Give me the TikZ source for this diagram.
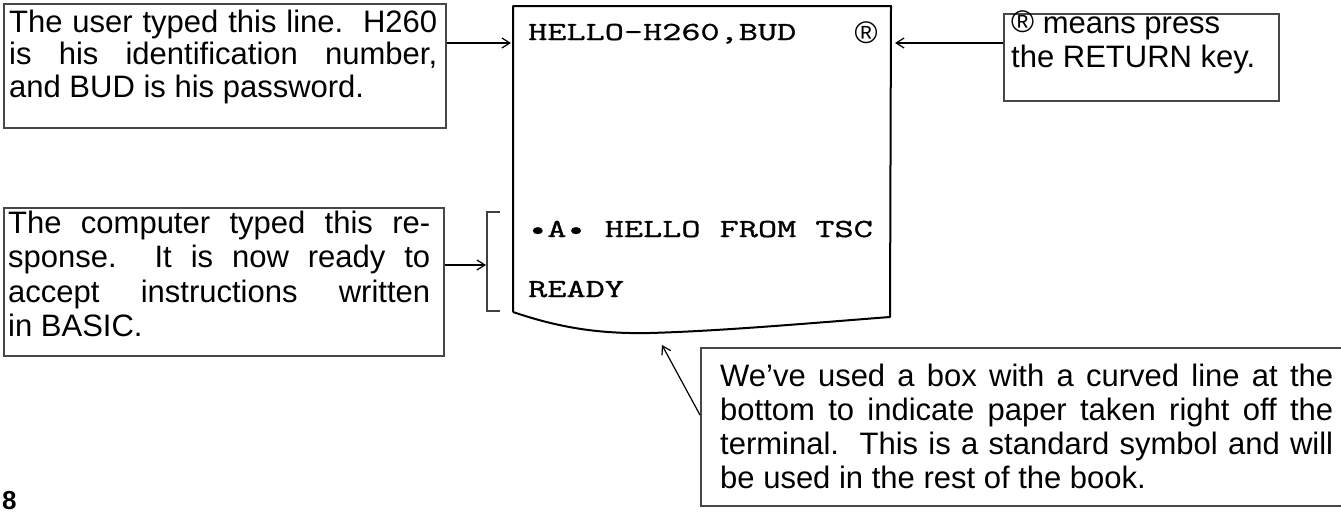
\documentclass[tikz,border=0pt]{standalone}
\usepackage{fontspec}
\setmainfont{Liberation Sans}
\newfontfamily\typer{Latin Modern Mono}[FakeStretch=1.43,FakeBold=1.2]
\usetikzlibrary{arrows.meta}
\newcommand\jline[2]{\makebox[#1][s]{#2}}
\newcommand\circR{\resizebox{23pt}{!}{®}}
\begin{document}
\begin{tikzpicture}[x=1pt,y=-1pt,
  frame/.style={draw=black!72, line width=1.8pt, inner sep=0pt, anchor=north west},
  txt/.style={anchor=north west, inner sep=0pt, align=left},
  paper/.style={draw=black, line width=2pt, line join=round},
  brk/.style={draw=black!75, line width=1.5pt},
  arr/.style={draw=black, line width=1.2pt, -{Straight Barb[length=8pt,width=10pt]}},
  mono/.style={anchor=base west, inner sep=0pt, font=\typer\fontsize{26}{26}\selectfont}]
\useasboundingbox (0,0) rectangle (1341,514);
\clip (0,0) rectangle (1341,514);

% frames
\node[frame, minimum width=442pt, minimum height=124pt] (b1) at (3,3) {};
\node[frame, minimum width=440pt, minimum height=148pt] (b2) at (3,207) {};
\node[frame, minimum width=275pt, minimum height=87pt] (b3) at (1003,13) {};
\node[frame, minimum width=660pt, minimum height=158pt] (b4) at (700,347) {};

% box texts
\node[txt, font=\fontsize{31}{32.5}\selectfont] (t1) at (9,9.5)
  {\rule{0pt}{22.5pt}\jline{428pt}{The user typed this line.\ \ H260}\\
   \jline{428pt}{is his identification number,}\\
   and BUD is his password.};
\node[txt, font=\fontsize{31}{34.5}\selectfont] (t2) at (8,210.5)
  {\rule{0pt}{22.5pt}\jline{422pt}{The computer typed this re-}\\
   \jline{422pt}{sponse.\ \ It is now ready to}\\
   \jline{422pt}{accept instructions written}\\
   in BASIC.};
\node[txt, font=\fontsize{31}{34}\selectfont] (t3) at (1011,10.5)
  {\rule{0pt}{22.5pt}\raisebox{\dimexpr 11pt-.5\height+.5\depth\relax}{\circR}\ means press\\
   the RETURN key.};
\node[txt, font=\fontsize{31}{34}\selectfont] (t4) at (720,363.5)
  {\rule{0pt}{22.5pt}\jline{613pt}{We’ve used a box with a curved line at the}\\
   \jline{613pt}{bottom to indicate paper taken right off the}\\
   \jline{613pt}{terminal.\ \ This is a standard symbol and will}\\
   be used in the rest of the book.};

% paper
\coordinate (ptl) at (513,6);
\coordinate (ptr) at (891,6);
\coordinate (pbr) at (890,317);
\coordinate (pbl) at (513,312);
\draw[paper] (pbl) -- (ptl) -- (ptr) -- (pbr)
  .. controls (800,324) and (720,331) .. (650,333)
  .. controls (600,334) and (560,328) .. (pbl);
\node[mono] (l1) at (528,40) {HELLO-H260,BUD};
\node[mono] (l2) at (528,237) {•A• HELLO FROM TSC};
\node[mono] (l3) at (528,297) {READY};
\node[inner sep=0pt, anchor=center, font=\fontsize{31}{31}\selectfont] (r1) at (866,33) {\circR};

% bracket
\coordinate (kt) at (487,212);
\coordinate (kb) at (487,311);
\coordinate (km) at (487,265);
\draw[brk] (500,212) -- (kt) -- (kb) -- (500,311);

% arrows
\coordinate (pa1) at (511,43);
\coordinate (pa3) at (895,43);
\coordinate (pa4) at (662,345);
\draw[arr] ([yshift=-40pt]b1.north east) -- (pa1);
\draw[arr] ([yshift=-30pt]b3.north west) -- (pa3);
\draw[arr, shorten >=1pt] ([yshift=-58pt]b2.north east) -- (km);
\draw[arr] ([yshift=-68pt]b4.north west) -- (pa4);

% page number
\node[anchor=base west, inner sep=0pt, font=\bfseries\fontsize{26}{26}\selectfont] (pg) at (2,509) {8};
\end{tikzpicture}
\end{document}
